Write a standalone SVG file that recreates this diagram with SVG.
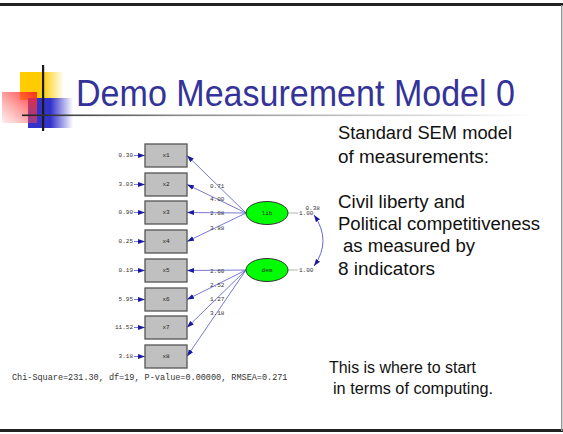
<svg xmlns="http://www.w3.org/2000/svg" width="563" height="434" viewBox="0 0 563 434">
<style>
.box{fill:#c0c0c0;stroke:#555;stroke-width:1.3}
.lat{fill:#00ff00;stroke:#333;stroke-width:1}
.lbl{font-family:"Liberation Mono",monospace;font-size:6px;fill:#222;text-anchor:middle;dominant-baseline:central}
.num{font-family:"Liberation Mono",monospace;font-size:6px;fill:#333;dominant-baseline:central}
.err{text-anchor:end}
.path{stroke:#5555cc;stroke-width:0.8;fill:none;marker-end:url(#ah)}
.txt{font-family:"Liberation Sans",Tahoma,sans-serif;fill:#111}
</style>
<defs>
<marker id="ah" markerUnits="userSpaceOnUse" markerWidth="8" markerHeight="6" refX="7" refY="3" orient="auto-start-reverse">
<path d="M0,0.5 L7,3 L0,5.5 z" fill="#1a1aa0"/>
</marker>
<linearGradient id="gy" x1="0" y1="0" x2="1" y2="0">
<stop offset="0" stop-color="#ffcc00"/><stop offset="0.5" stop-color="#ffcc00"/><stop offset="1" stop-color="#ffcc00" stop-opacity="0"/>
</linearGradient>
<linearGradient id="gb" x1="0" y1="0" x2="1" y2="0">
<stop offset="0" stop-color="#3333cc"/><stop offset="0.5" stop-color="#3333cc"/><stop offset="1" stop-color="#3333cc" stop-opacity="0"/>
</linearGradient>
<linearGradient id="gr" x1="1" y1="0" x2="0" y2="1">
<stop offset="0" stop-color="#ff2222" stop-opacity="0.95"/><stop offset="1" stop-color="#ff6666" stop-opacity="0.12"/>
</linearGradient>
<linearGradient id="gl" x1="0" y1="0" x2="1" y2="0">
<stop offset="0" stop-color="#222"/><stop offset="0.3" stop-color="#888"/><stop offset="1" stop-color="#fff"/>
</linearGradient>
</defs>
<rect width="563" height="434" fill="#fff"/>
<g id="frame">
<rect x="0" y="3" width="563" height="3" fill="#222"/>
<rect x="0" y="429" width="563" height="3" fill="#222"/>
<rect x="561" y="5" width="1.5" height="426" fill="#999"/>
</g>
<g id="logo">
<rect x="20" y="72" width="44" height="28" fill="url(#gy)"/>
<rect x="28" y="98" width="45" height="30" fill="url(#gb)"/>
<rect x="2" y="92" width="35" height="31" fill="url(#gr)"/>
<rect x="42" y="65" width="2.2" height="66" fill="#1a1a1a"/>
<rect x="22" y="114.5" width="513" height="1.6" fill="url(#gl)"/>
</g>
<text id="title" x="76" y="106" font-family="'Liberation Sans',Tahoma,sans-serif" font-size="36" fill="#333399" textLength="439" lengthAdjust="spacingAndGlyphs">Demo Measurement Model 0</text>
<g id="connectors">
<line class="path" x1="134" y1="155.5" x2="145" y2="155.5"/>
<line class="path" x1="134" y1="184.5" x2="145" y2="184.5"/>
<line class="path" x1="134" y1="212.5" x2="145" y2="212.5"/>
<line class="path" x1="134" y1="241.5" x2="145" y2="241.5"/>
<line class="path" x1="134" y1="270.5" x2="145" y2="270.5"/>
<line class="path" x1="134" y1="299.5" x2="145" y2="299.5"/>
<line class="path" x1="134" y1="327.5" x2="145" y2="327.5"/>
<line class="path" x1="134" y1="356.5" x2="145" y2="356.5"/>
<line class="path" x1="246" y1="213" x2="187" y2="155.5"/>
<line class="path" x1="246" y1="213" x2="187" y2="184.5"/>
<line class="path" x1="246" y1="213" x2="187" y2="212.5"/>
<line class="path" x1="246" y1="213" x2="187" y2="241.5"/>
<line class="path" x1="246" y1="270" x2="187" y2="270.5"/>
<line class="path" x1="246" y1="270" x2="187" y2="299.5"/>
<line class="path" x1="246" y1="270" x2="187" y2="327.5"/>
<line class="path" x1="246" y1="270" x2="187" y2="356.5"/>
<line x1="288" y1="213" x2="298" y2="213" stroke="#ccc" stroke-width="1.5"/>
<line x1="288" y1="270" x2="298" y2="270" stroke="#ccc" stroke-width="1.5"/>
<path d="M314,215 Q332,241 314,266" stroke="#5555cc" stroke-width="0.9" fill="none" marker-start="url(#ah)" marker-end="url(#ah)"/>
</g>
<g id="x1"><rect class="box" x="145" y="144" width="42" height="23"/><text class="lbl" x="166" y="155.5">x1</text><text class="num err" x="133" y="155.5">0.30</text></g>
<g id="x2"><rect class="box" x="145" y="173" width="42" height="23"/><text class="lbl" x="166" y="184.5">x2</text><text class="num err" x="133" y="184.5">3.03</text></g>
<g id="x3"><rect class="box" x="145" y="201" width="42" height="23"/><text class="lbl" x="166" y="212.5">x3</text><text class="num err" x="133" y="212.5">0.90</text></g>
<g id="x4"><rect class="box" x="145" y="230" width="42" height="23"/><text class="lbl" x="166" y="241.5">x4</text><text class="num err" x="133" y="241.5">0.25</text></g>
<g id="x5"><rect class="box" x="145" y="259" width="42" height="23"/><text class="lbl" x="166" y="270.5">x5</text><text class="num err" x="133" y="270.5">0.19</text></g>
<g id="x6"><rect class="box" x="145" y="288" width="42" height="23"/><text class="lbl" x="166" y="299.5">x6</text><text class="num err" x="133" y="299.5">5.95</text></g>
<g id="x7"><rect class="box" x="145" y="316" width="42" height="23"/><text class="lbl" x="166" y="327.5">x7</text><text class="num err" x="133" y="327.5">11.52</text></g>
<g id="x8"><rect class="box" x="145" y="345" width="42" height="23"/><text class="lbl" x="166" y="356.5">x8</text><text class="num err" x="133" y="356.5">3.18</text></g>
<g id="lib"><ellipse class="lat" cx="267" cy="213" rx="21" ry="11.5"/><text class="lbl" x="267" y="213">lib</text></g>
<g id="dem"><ellipse class="lat" cx="267" cy="270" rx="21" ry="11.5"/><text class="lbl" x="267" y="270">dem</text></g>
<g id="loadings">
<text class="num" x="210" y="186">0.71</text>
<text class="num" x="210" y="199.5">4.00</text>
<text class="num" x="210" y="213">2.08</text>
<text class="num" x="210" y="228">3.88</text>
<text class="num" x="210" y="271">2.60</text>
<text class="num" x="210" y="285">2.52</text>
<text class="num" x="210" y="299">1.27</text>
<text class="num" x="210" y="313">3.18</text>
<text class="num" x="299" y="213.5">1.00</text>
<rect x="305" y="205" width="15" height="6" fill="#fff"/>
<text class="num" x="305.5" y="208">0.38</text>
<text class="num" x="299" y="270">1.00</text>
</g>
<text id="fit" x="12" y="380" font-family="'Liberation Mono',monospace" font-size="8.5" fill="#333">Chi-Square=231.30, df=19, P-value=0.00000, RMSEA=0.271</text>
<g id="description" class="txt" font-size="17.5">
<text x="338" y="139" textLength="174" lengthAdjust="spacingAndGlyphs">Standard SEM model</text>
<text x="338" y="163" textLength="151" lengthAdjust="spacingAndGlyphs">of measurements:</text>
<text x="338" y="208" textLength="127" lengthAdjust="spacingAndGlyphs">Civil liberty and</text>
<text x="338" y="230" textLength="202" lengthAdjust="spacingAndGlyphs">Political competitiveness</text>
<text x="343" y="252" textLength="132" lengthAdjust="spacingAndGlyphs">as measured by</text>
<text x="338" y="275" textLength="97" lengthAdjust="spacingAndGlyphs">8 indicators</text>
</g>
<g id="note" class="txt" font-size="16">
<text x="329" y="373" textLength="147" lengthAdjust="spacingAndGlyphs">This is where to start</text>
<text x="333" y="394" textLength="160" lengthAdjust="spacingAndGlyphs">in terms of computing.</text>
</g>
</svg>
